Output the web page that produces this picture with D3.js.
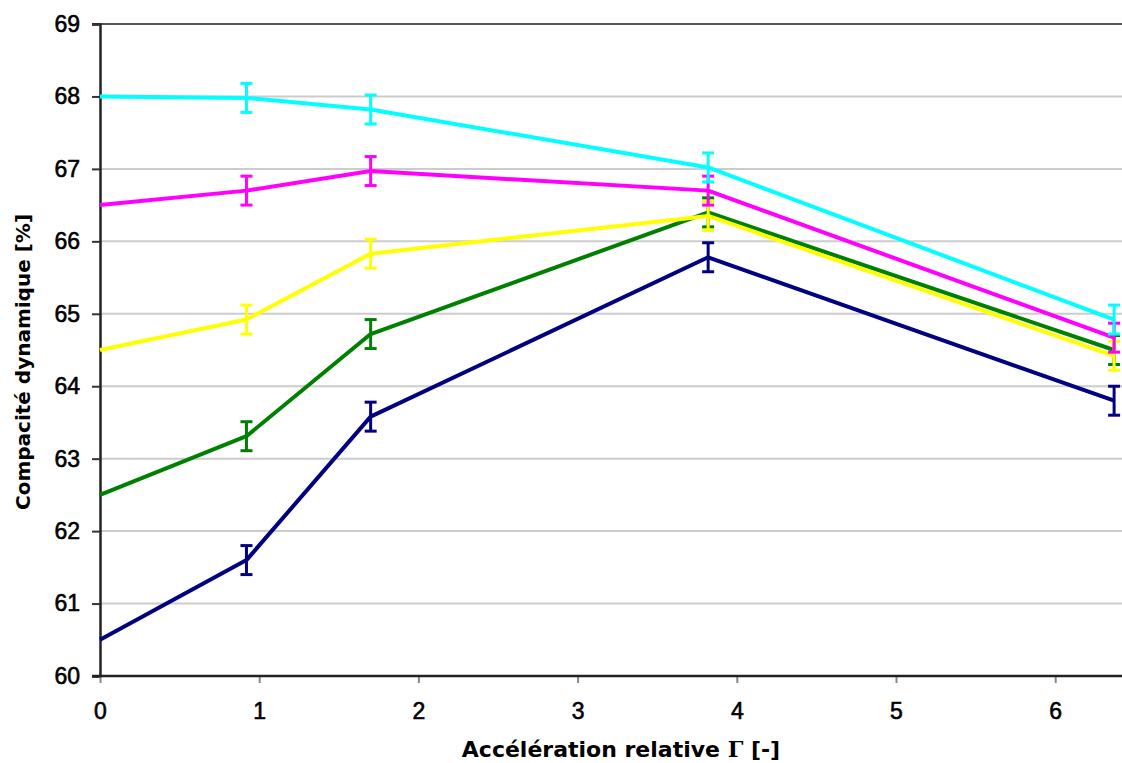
<!DOCTYPE html>
<html><head><meta charset="utf-8">
<script src="https://cdn.jsdelivr.net/npm/d3@7"></script>
<style>body{margin:0;background:#fff}svg{display:block}</style>
</head><body>
<svg id="c" width="1122" height="763"></svg>
<script>
const xValues = [0, 0.92, 1.7, 3.82, 6.37];
const seriesNames = ["navy", "green", "yellow", "magenta", "cyan"];
const seriesColors = ["#000080", "#008000", "#ffff00", "#ff00ff", "#00ffff"];
const navyValues = [60.5, 61.6, 63.58, 65.78, 63.8];
const greenValues = [62.5, 63.31, 64.72, 66.4, 64.5];
const yellowValues = [64.5, 64.92, 65.83, 66.35, 64.42];
const magentaValues = [66.5, 66.7, 66.97, 66.7, 64.67];
const cyanValues = [68.0, 67.98, 67.82, 67.02, 64.92];
const errorValues = [0, 0.2, 0.2, 0.2, 0.2];
const xTicks = [0, 1, 2, 3, 4, 5, 6];
const yTicks = [60, 61, 62, 63, 64, 65, 66, 67, 68, 69];
const xTitle = "Accélération relative ";
const yTitle = "Compacité dynamique [%]";

const allValues = [navyValues, greenValues, yellowValues, magentaValues, cyanValues];
const svg = d3.select("#c");
const m = {l: 100, t: 24, b: 676};
const x = d3.scaleLinear().domain([0, 6.4]).range([m.l, m.l + 6.4 * 159.2]);
const y = d3.scaleLinear().domain([60, 69]).range([m.b, m.t]);
const tickFont = "Liberation Sans, Arial, sans-serif";
const titleFont = "DejaVu Sans, Verdana, sans-serif";

// gridlines
svg.append("g").selectAll("line").data(yTicks.slice(1, -1)).join("line")
  .attr("x1", m.l).attr("x2", 1122).attr("y1", d => y(d)).attr("y2", d => y(d))
  .attr("stroke", "#cccccc").attr("stroke-width", 2);
svg.append("line").attr("x1", m.l - 8).attr("x2", 1122).attr("y1", y(69)).attr("y2", y(69))
  .attr("stroke", "#555").attr("stroke-width", 2);

// y axis
const yAxis = svg.append("g").attr("transform", `translate(${m.l},0)`)
  .call(d3.axisLeft(y).tickValues(yTicks).tickSize(8).tickPadding(12).tickFormat(d3.format("d")));
yAxis.select(".domain").attr("stroke", "#222").attr("stroke-width", 2.5);
yAxis.selectAll(".tick line").attr("stroke", "#333").attr("stroke-width", 2);
yAxis.selectAll("text").attr("font-family", tickFont)
  .attr("font-size", 23).attr("fill", "#000").attr("stroke", "#000").attr("stroke-width", 0.6);

// x axis
const xAxis = svg.append("g").attr("transform", `translate(0,${m.b})`)
  .call(d3.axisBottom(x).tickValues(xTicks).tickSize(7).tickPadding(20).tickFormat(d3.format("d")));
xAxis.select(".domain").remove();
xAxis.append("line").attr("x1", m.l - 8).attr("x2", 1122).attr("stroke", "#222").attr("stroke-width", 2.5);
xAxis.selectAll(".tick line").attr("stroke", "#888").attr("stroke-width", 2);
xAxis.selectAll("text").attr("font-family", tickFont).attr("y", 43).attr("dy", 0)
  .attr("font-size", 23).attr("fill", "#000").attr("stroke", "#000").attr("stroke-width", 0.6);

// series
const line = d3.line().x((d, i) => x(xValues[i])).y(d => y(d));
allValues.forEach((vals, s) => {
  const g = svg.append("g");
  g.append("path").datum(vals).attr("d", line).attr("fill", "none")
    .attr("stroke", seriesColors[s]).attr("stroke-width", 4).attr("stroke-linejoin", "round");
  const eb = g.selectAll("g.eb").data(vals.map((v, i) => ({v, i})).filter(d => errorValues[d.i] > 0)).join("g");
  eb.append("line").attr("x1", d => x(xValues[d.i])).attr("x2", d => x(xValues[d.i]))
    .attr("y1", d => y(d.v - errorValues[d.i])).attr("y2", d => y(d.v + errorValues[d.i]))
    .attr("stroke", seriesColors[s]).attr("stroke-width", 3);
  [-1, 1].forEach(sg => {
    eb.append("line").attr("x1", d => x(xValues[d.i]) - 6).attr("x2", d => x(xValues[d.i]) + 6)
      .attr("y1", d => y(d.v + sg * errorValues[d.i])).attr("y2", d => y(d.v + sg * errorValues[d.i]))
      .attr("stroke", seriesColors[s]).attr("stroke-width", 3);
  });
});

// titles
const xt = svg.append("text").attr("x", 621).attr("y", 757).attr("text-anchor", "middle")
  .attr("font-family", titleFont).attr("font-size", 22).attr("font-weight", "bold").attr("fill", "#000");
xt.append("tspan").text(xTitle);
xt.append("tspan").attr("font-family", "DejaVu Serif, serif").text("Γ");
xt.append("tspan").text(" [-]");
svg.append("text").attr("transform", `translate(30,${362}) rotate(-90)`).attr("text-anchor", "middle")
  .attr("font-family", titleFont).attr("font-size", 20).attr("font-weight", "bold").attr("fill", "#000")
  .text(yTitle);
</script>
</body></html>
